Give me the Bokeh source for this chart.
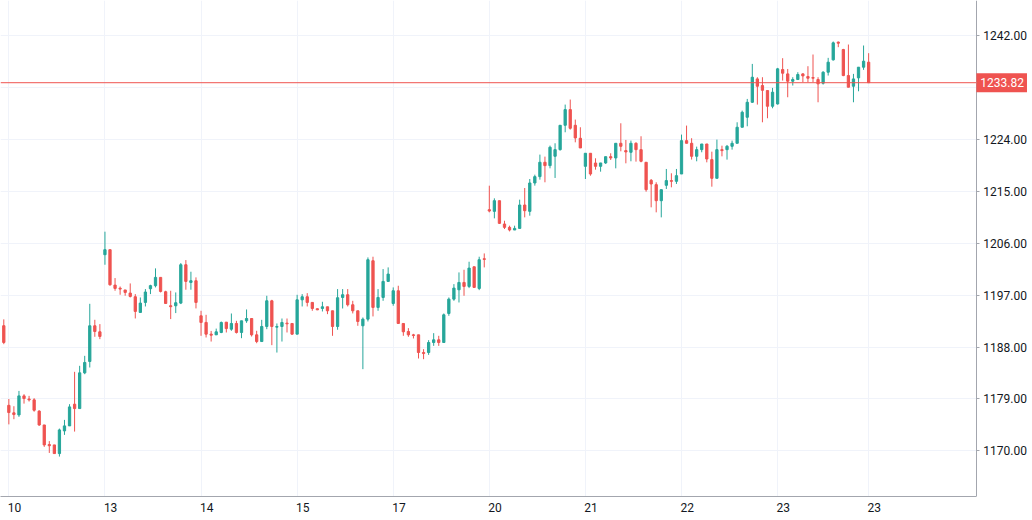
from bokeh.plotting import figure
from bokeh.models import (ColumnDataSource, Range1d, FixedTicker, PrintfTickFormatter, Label,
                          Grid, LinearAxis)
from bokeh.embed import file_html
from bokeh.resources import INLINE

# OHLC, one bar per entry
opens = [
    1191.7, 1177.9, 1176.6, 1176.24, 1179.54, 1179.0, 1178.85, 1176.9, 1174.5, 1171.1,
    1171.04, 1169.54, 1173.47, 1174.34, 1178.1, 1177.34, 1183.53, 1185.5, 1191.69, 1190.65,
    1204.01, 1204.88, 1198.74, 1198.2, 1197.9, 1197.36, 1196.72, 1194.0, 1195.74, 1198.11,
    1198.63, 1200.08, 1197.59, 1195.16, 1195.16, 1195.62, 1202.27, 1199.2, 1199.5, 1193.42,
    1192.27, 1190.24, 1190.12, 1190.53, 1192.32, 1191.1, 1192.09, 1190.53, 1192.55, 1192.95,
    1190.12, 1188.96, 1191.57, 1196.02, 1191.45, 1191.57, 1192.15, 1192.09, 1190.24, 1196.19,
    1196.72, 1195.74, 1194.64, 1194.69, 1194.98, 1194.29, 1191.57, 1196.6, 1197.07, 1195.33,
    1194.29, 1191.69, 1192.84, 1202.96, 1194.87, 1196.6, 1199.38, 1195.56, 1197.76, 1192.09,
    1190.7, 1190.12, 1190.12, 1187.06, 1187.06, 1188.79, 1189.25, 1188.79, 1193.82, 1196.31,
    1197.93, 1199.2, 1198.51, 1201.92, 1198.16, 1203.31, 1211.81, 1211.52, 1213.37, 1209.33,
    1208.75, 1208.29, 1208.57, 1212.62, 1211.52, 1216.44, 1217.54, 1220.03, 1219.45, 1221.07,
    1222.22, 1226.44, 1229.16, 1226.44, 1224.19, 1219.33, 1221.59, 1219.9, 1219.33, 1219.91,
    1221.0, 1220.78, 1223.32, 1222.05, 1221.76, 1223.32, 1222.22, 1220.03, 1216.9, 1216.15,
    1213.37, 1216.04, 1216.85, 1216.73, 1218.0, 1223.78, 1223.32, 1221.07, 1222.22, 1223.2,
    1220.49, 1217.25, 1222.22, 1222.22, 1222.8, 1223.32, 1226.1, 1227.83, 1230.43, 1234.48,
    1233.33, 1232.46, 1229.74, 1230.14, 1236.1, 1235.35, 1234.08, 1234.37, 1235.35, 1234.89,
    1234.72, 1234.37, 1233.73, 1235.64, 1237.78, 1240.85, 1239.57, 1235.06, 1233.21, 1234.66,
    1236.51, 1237.38,
]
highs = [
    1192.8, 1179.0, 1177.75, 1180.4, 1179.83, 1179.54, 1179.14, 1177.05, 1174.5, 1171.7,
    1171.04, 1173.87, 1175.38, 1178.1, 1183.71, 1184.75, 1186.48, 1195.5, 1192.73, 1191.98,
    1208.0, 1204.88, 1199.96, 1198.5, 1197.9, 1199.03, 1197.18, 1196.6, 1198.05, 1198.8,
    1201.64, 1200.08, 1197.76, 1197.76, 1197.47, 1202.56, 1203.08, 1201.06, 1200.08, 1194.29,
    1193.59, 1190.8, 1191.2, 1192.43, 1192.32, 1193.82, 1192.55, 1192.55, 1194.52, 1192.95,
    1190.82, 1192.72, 1196.89, 1196.19, 1192.09, 1192.95, 1192.95, 1192.09, 1197.06, 1197.18,
    1197.35, 1195.74, 1194.7, 1195.85, 1194.98, 1194.29, 1198.05, 1198.05, 1198.05, 1196.02,
    1194.29, 1193.13, 1203.54, 1203.66, 1198.05, 1201.52, 1201.81, 1198.34, 1198.63, 1192.09,
    1191.28, 1190.29, 1190.12, 1187.64, 1189.2, 1190.41, 1189.95, 1193.82, 1196.6, 1198.91,
    1200.94, 1201.4, 1202.79, 1201.92, 1203.66, 1204.23, 1215.97, 1213.78, 1213.37, 1209.9,
    1209.04, 1209.04, 1213.55, 1215.57, 1217.13, 1217.88, 1221.36, 1221.01, 1222.92, 1223.32,
    1226.44, 1230.03, 1230.9, 1227.43, 1226.1, 1221.59, 1221.59, 1220.72, 1219.91, 1221.0,
    1221.59, 1223.32, 1226.79, 1223.9, 1223.79, 1223.5, 1224.54, 1220.03, 1217.13, 1216.56,
    1215.28, 1218.87, 1218.12, 1218.87, 1224.83, 1226.39, 1224.2, 1222.74, 1223.2, 1223.2,
    1221.87, 1223.96, 1222.91, 1223.03, 1223.78, 1226.96, 1228.99, 1231.01, 1237.08, 1234.77,
    1234.77, 1232.46, 1232.92, 1236.39, 1238.07, 1236.2, 1234.77, 1235.64, 1235.47, 1236.68,
    1238.71, 1234.77, 1235.81, 1238.13, 1240.96, 1240.96, 1239.69, 1240.44, 1235.35, 1236.51,
    1240.27, 1238.94,
]
lows = [
    1188.5, 1174.6, 1175.5, 1175.9, 1178.2, 1178.56, 1176.8, 1174.34, 1170.7, 1169.65,
    1169.54, 1169.02, 1172.78, 1174.34, 1173.35, 1177.34, 1183.3, 1184.46, 1189.78, 1189.37,
    1202.27, 1198.63, 1197.76, 1197.07, 1196.9, 1196.6, 1192.96, 1194.0, 1195.04, 1197.18,
    1198.34, 1197.47, 1195.56, 1192.85, 1193.89, 1195.45, 1197.94, 1197.94, 1194.7, 1189.95,
    1189.66, 1188.96, 1190.12, 1190.41, 1190.53, 1190.82, 1190.35, 1189.54, 1192.2, 1189.83,
    1188.67, 1188.96, 1191.1, 1188.33, 1187.05, 1188.96, 1190.53, 1190.12, 1190.24, 1195.04,
    1195.04, 1194.29, 1194.4, 1194.17, 1193.71, 1189.95, 1191.0, 1194.69, 1195.04, 1193.83,
    1191.69, 1184.17, 1192.44, 1193.31, 1194.29, 1196.02, 1199.38, 1195.16, 1192.09, 1189.95,
    1189.78, 1189.49, 1186.02, 1185.9, 1186.65, 1188.21, 1188.21, 1188.79, 1193.42, 1196.02,
    1195.73, 1196.89, 1198.22, 1198.34, 1197.87, 1201.81, 1211.35, 1210.31, 1209.33, 1208.46,
    1208.05, 1208.29, 1208.57, 1210.48, 1210.77, 1215.98, 1217.02, 1216.56, 1218.98, 1217.31,
    1222.05, 1225.23, 1225.69, 1223.49, 1222.51, 1217.13, 1217.7, 1218.75, 1218.4, 1219.74,
    1220.43, 1218.98, 1221.93, 1219.85, 1220.2, 1220.14, 1220.03, 1214.93, 1212.22, 1211.35,
    1210.48, 1215.4, 1215.69, 1216.27, 1218.0, 1223.32, 1220.5, 1220.2, 1221.76, 1220.02,
    1215.8, 1217.25, 1221.06, 1220.49, 1222.22, 1223.32, 1226.1, 1226.27, 1230.32, 1230.03,
    1226.96, 1227.66, 1229.39, 1230.03, 1234.19, 1231.3, 1233.33, 1234.37, 1233.91, 1233.91,
    1233.91, 1230.43, 1233.5, 1235.06, 1237.66, 1239.98, 1234.95, 1233.04, 1230.43, 1232.34,
    1236.05, 1233.82,
]
closes = [
    1188.8, 1176.65, 1176.3, 1179.54, 1179.08, 1178.85, 1177.05, 1174.5, 1171.04, 1170.9,
    1169.54, 1173.64, 1174.34, 1177.63, 1177.34, 1183.53, 1185.33, 1191.69, 1190.7, 1189.84,
    1204.88, 1198.8, 1198.17, 1198.05, 1197.47, 1196.78, 1194.18, 1195.62, 1197.54, 1198.65,
    1200.08, 1197.65, 1195.56, 1195.0, 1195.68, 1202.27, 1199.38, 1199.5, 1195.74, 1192.27,
    1190.24, 1190.06, 1190.64, 1192.26, 1191.2, 1192.09, 1190.53, 1192.55, 1192.95, 1190.12,
    1188.96, 1191.57, 1196.02, 1191.57, 1191.57, 1192.26, 1192.03, 1190.24, 1196.19, 1196.72,
    1195.74, 1194.69, 1194.46, 1194.98, 1194.29, 1191.57, 1196.55, 1197.07, 1195.33, 1194.29,
    1192.44, 1192.84, 1203.14, 1194.87, 1196.6, 1199.38, 1200.65, 1197.76, 1192.09, 1190.65,
    1190.12, 1190.0, 1187.06, 1186.88, 1188.79, 1189.25, 1188.79, 1193.59, 1196.31, 1198.22,
    1199.2, 1198.51, 1201.69, 1198.34, 1203.14, 1203.2, 1211.58, 1213.37, 1209.44, 1208.75,
    1208.29, 1208.57, 1212.62, 1211.64, 1216.44, 1217.54, 1220.03, 1219.45, 1222.63, 1222.22,
    1226.44, 1229.16, 1225.92, 1224.25, 1222.51, 1221.59, 1218.0, 1219.33, 1219.91, 1221.0,
    1220.78, 1223.32, 1222.8, 1221.82, 1223.32, 1222.22, 1220.2, 1215.28, 1216.27, 1213.37,
    1215.28, 1216.85, 1216.73, 1217.71, 1223.78, 1223.32, 1221.07, 1222.22, 1223.2, 1220.6,
    1217.25, 1222.22, 1222.05, 1222.8, 1223.32, 1226.1, 1228.7, 1230.43, 1234.77, 1233.21,
    1232.51, 1229.74, 1232.17, 1236.22, 1235.47, 1234.08, 1234.37, 1235.24, 1235.0, 1234.6,
    1234.6, 1233.62, 1235.64, 1237.38, 1240.73, 1240.67, 1235.06, 1233.04, 1234.48, 1236.51,
    1237.55, 1233.82,
]

# first bar of each day and its label
day_ticks = [1, 20, 39, 58, 77, 96, 115, 134, 153, 171]
day_labels = ["10", "13", "14", "15", "17", "20", "21", "22", "23", "23"]
price_ticks = [1170, 1179, 1188, 1197, 1206, 1215, 1224, 1233, 1242]
last_price = 1233.82

UP = "#26a69a"
DOWN = "#ef5350"
AXIS = "#a3a6ae"
GRID = "#f0f3fa"
TEXT = "#131722"

# bar-index window; the price scale sits inside it, at bar 192.3
x_lo, x_hi = -0.65, 203.4
y_lo, y_hi = 1162.1, 1248.07
axis_x = 192.3

bars = list(range(len(opens)))
colors = [UP if c >= o else DOWN for o, c in zip(opens, closes)]
src = ColumnDataSource(dict(x=bars, o=opens, h=highs, l=lows, c=closes, color=colors))

p = figure(width=1032, height=520,
           x_range=Range1d(x_lo, x_hi), y_range=Range1d(y_lo, y_hi),
           y_axis_location="right", toolbar_location=None, output_backend="svg",
           min_border_left=0, min_border_top=0, min_border_right=0, min_border_bottom=24)
p.outline_line_color = None
p.background_fill_color = "white"
p.border_fill_color = "white"

# candles
p.segment(x0="x", y0="h", x1="x", y1="l", color="color", line_width=1, source=src)
p.vbar(x="x", width=0.45, top="o", bottom="c", fill_color="color",
       line_color="color", line_width=1, source=src)

# grids
p.xgrid.visible = False
p.add_layout(Grid(dimension=0, ticker=FixedTicker(ticks=day_ticks),
                  grid_line_color=GRID, grid_line_width=1))
p.ygrid.ticker = FixedTicker(ticks=price_ticks)
p.ygrid.grid_line_color = GRID
if hasattr(p.ygrid[0], "cross_bounds"):
    p.ygrid.cross_bounds = (x_lo, axis_x)

# bottom axis: labels start at the day line, so shift the ticks half a label right
lab_off = 1.125
p.xaxis.ticker = FixedTicker(ticks=[t + lab_off for t in day_ticks])
p.xaxis.major_label_overrides = {t + lab_off: s for t, s in zip(day_ticks, day_labels)}
p.xaxis.bounds = (x_lo, axis_x)
p.xaxis.major_tick_out = 0
p.xaxis.major_tick_in = 0
p.xaxis.minor_tick_line_color = None
p.xaxis.axis_line_color = AXIS
p.xaxis.major_label_standoff = 6
p.xaxis.major_label_text_font = "Roboto"
p.xaxis.major_label_text_font_size = "12px"
p.xaxis.major_label_text_color = TEXT

# small tick marks on the day lines
day_marks = LinearAxis(fixed_location=y_lo, ticker=FixedTicker(ticks=day_ticks),
                       major_label_overrides={t: "" for t in day_ticks},
                       axis_line_color=None, major_tick_line_color=AXIS,
                       major_tick_out=3, major_tick_in=0, minor_tick_line_color=None)
p.add_layout(day_marks, "below")

# price axis drawn at a fixed bar position
p.yaxis.fixed_location = axis_x
p.yaxis.ticker = FixedTicker(ticks=price_ticks)
p.yaxis.formatter = PrintfTickFormatter(format="%.2f")
p.yaxis.major_label_overrides = {1233: ""}   # hidden behind the price tag
p.yaxis.major_tick_out = 3
p.yaxis.major_tick_in = 0
p.yaxis.minor_tick_line_color = None
p.yaxis.axis_line_color = AXIS
p.yaxis.major_tick_line_color = AXIS
p.yaxis.major_label_standoff = 4
p.yaxis.major_label_text_font = "Roboto"
p.yaxis.major_label_text_font_size = "12px"
p.yaxis.major_label_text_color = TEXT

# last price line and tag
p.segment(x0=[x_lo], y0=[last_price], x1=[axis_x], y1=[last_price], line_color=DOWN, line_width=1)
tag = Label(x=axis_x, y=last_price, text=f"{last_price:.2f}",
            text_color="white", text_font="Roboto", text_font_size="12px",
            text_align="left", text_baseline="middle",
            background_fill_color=DOWN, level="overlay")
try:
    tag.padding = dict(left=4, right=3, top=5, bottom=5)
except Exception:
    tag.padding = 4
p.add_layout(tag)

open("out.html", "w").write(file_html(p, INLINE))
